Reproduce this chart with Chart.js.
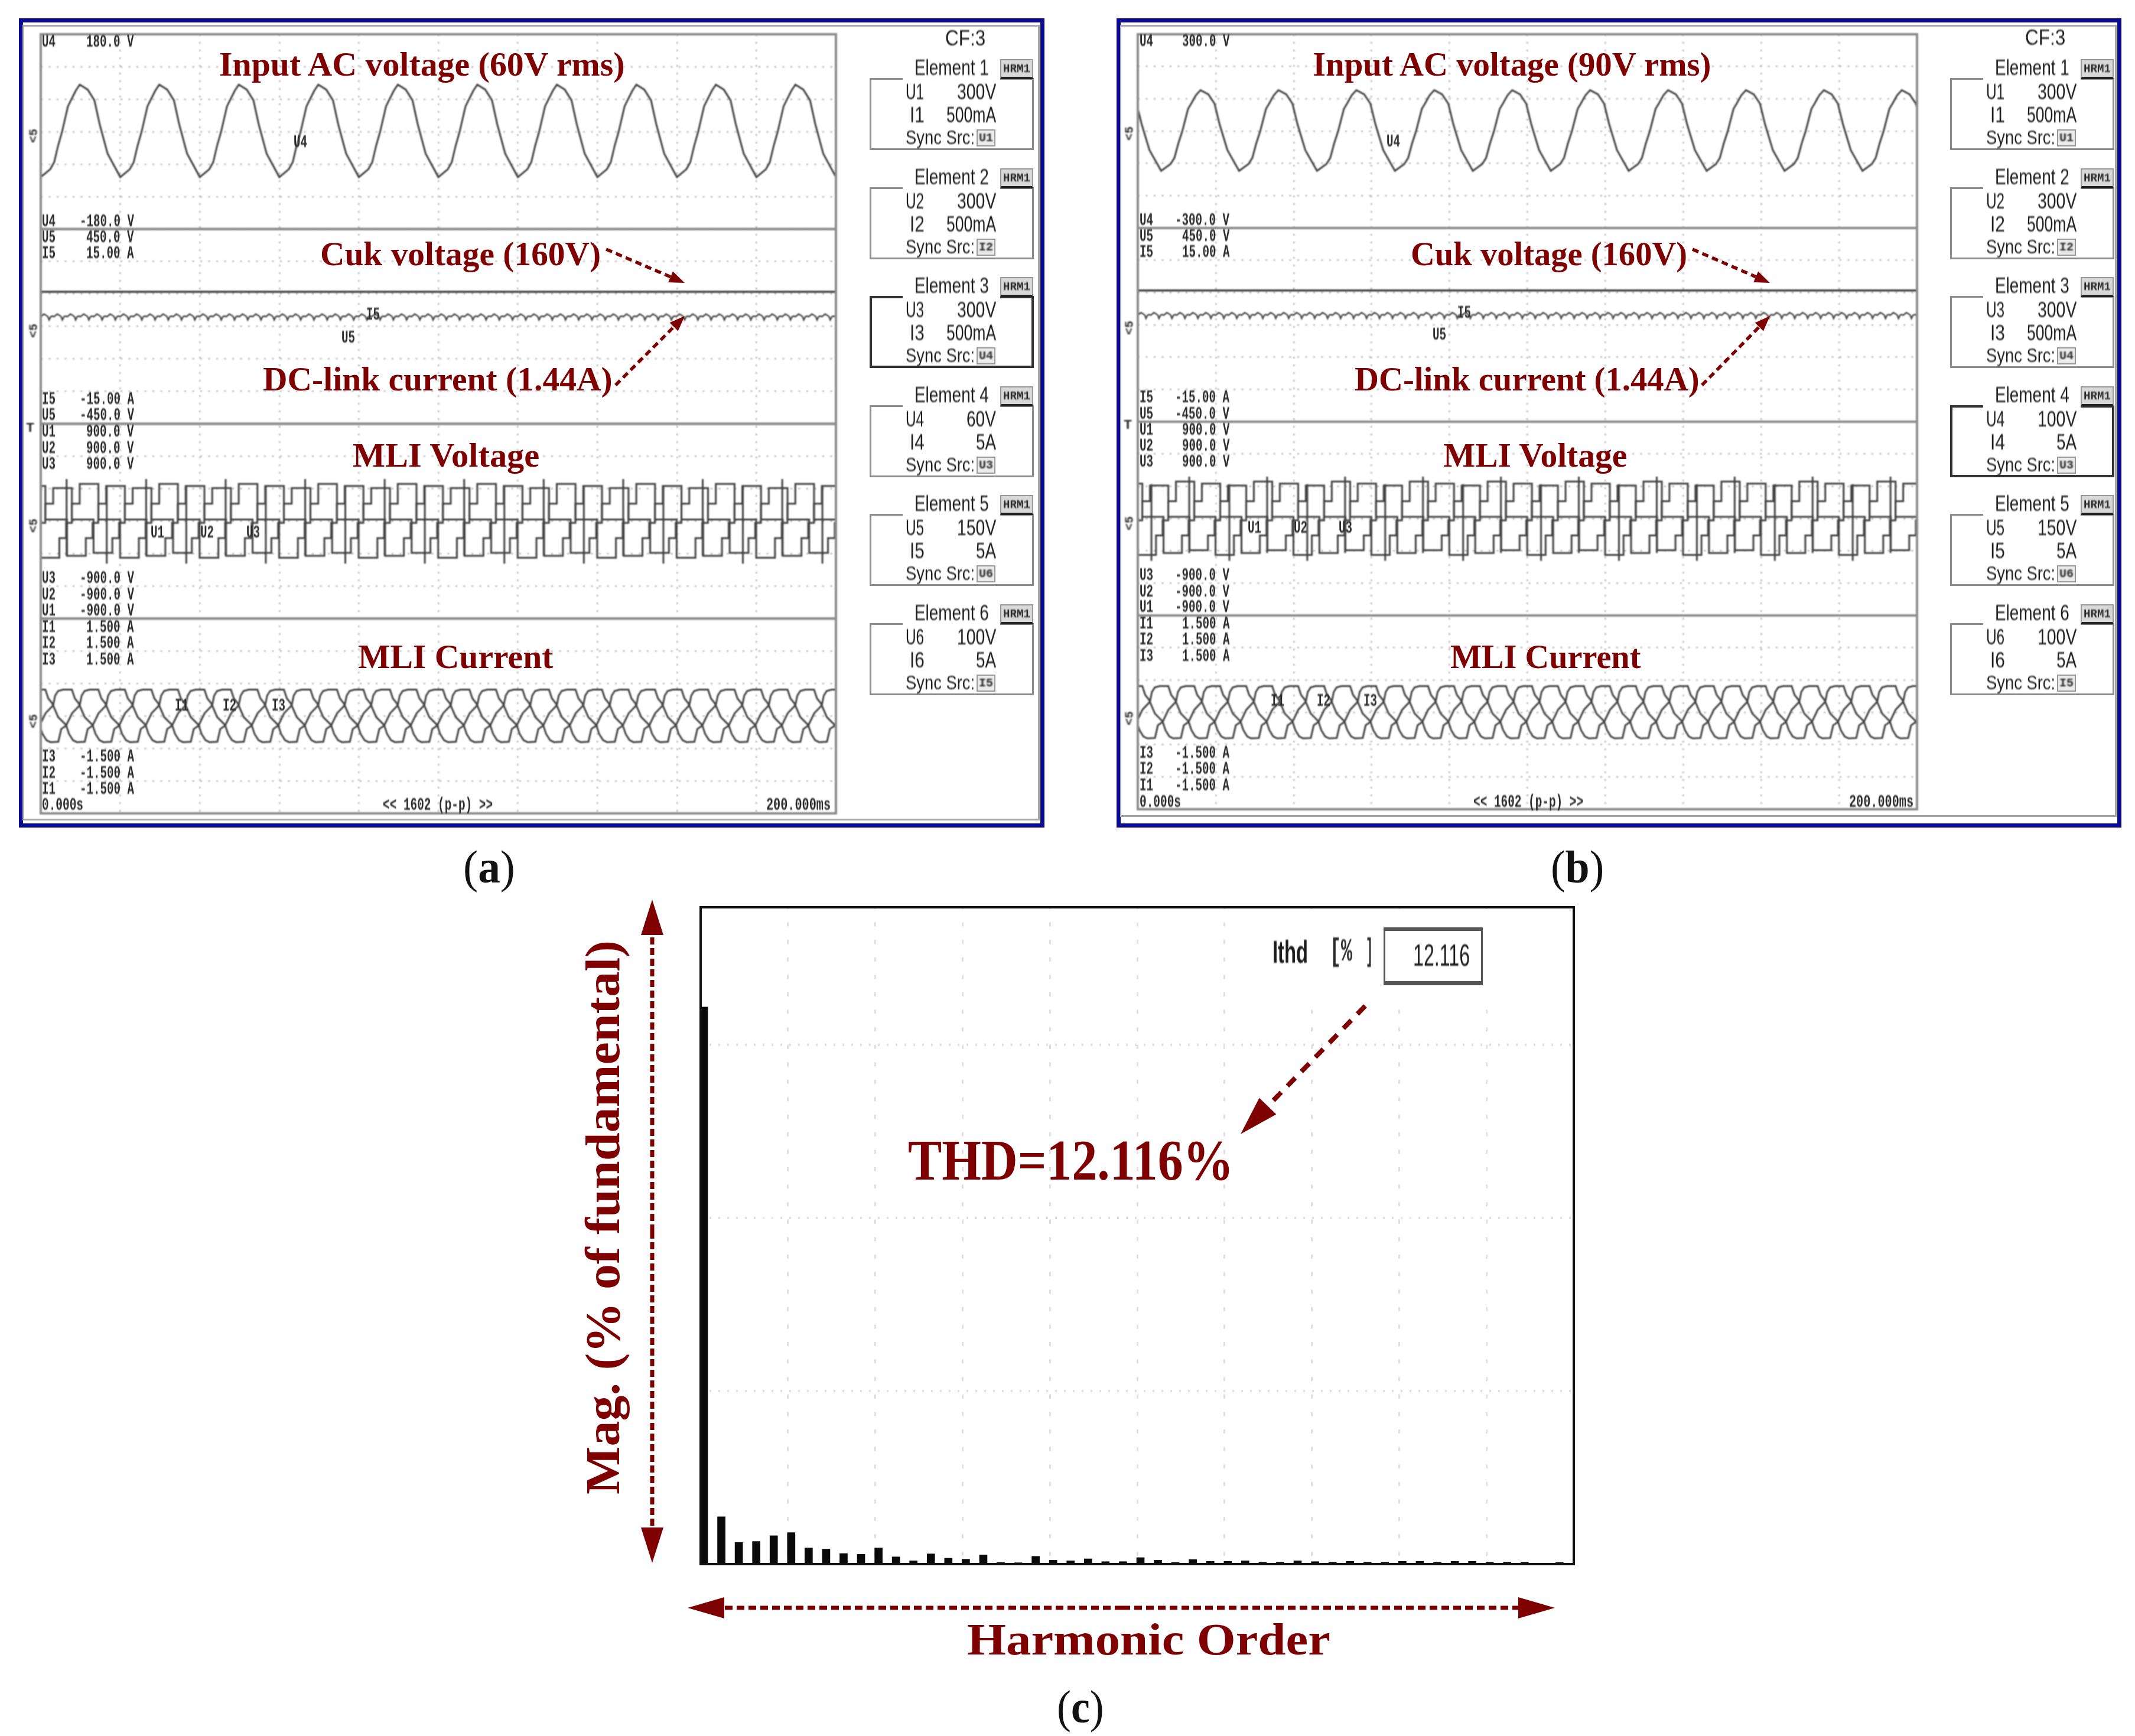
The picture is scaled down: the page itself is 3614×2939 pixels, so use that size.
<!DOCTYPE html>
<html>
<head>
<meta charset="utf-8">
<title>Scope captures and harmonic spectrum</title>
<script src="https://cdn.jsdelivr.net/npm/chart.js@4"></script>
<style>
    html, body { margin: 0; background: #fff; }
    body { position: relative; width: 3614px; height: 2939px; overflow: hidden; }
    canvas { position: absolute; }
    .box { position: absolute; box-sizing: border-box; }
    .txt { position: absolute; white-space: pre; line-height: 1; }
    .soft { filter: blur(0.8px); }
    svg { position: absolute; left: 0; top: 0; }
</style>
</head>
<body>
<script>
// one cycle of each trace (ms, then volts / amps)
const CYCLE_MS = 20;
const RIPPLE_MS = 3.33;

const inputTimesA = [0, 2.38, 3.37, 4.36, 5.35, 6.84, 7.58, 8.82, 9.81, 11.8, 13.5, 14.8, 16.8, 20];
const inputVoltsA = [-84, -69.5, -56.7, -25.8, -0.4, 46.9, 57.8, 76, 86.9, 77.8, 57.8, 14.2, -40.4, -84];
const inputTimesB = [6, 8.4, 9.4, 10.4, 11.4, 12.9, 13.7, 14.9, 16.1, 18.1, 19.7, 21, 23, 26];
const inputVoltsB = [-123, -102, -83, -38, -1, 69, 85, 111, 127, 114, 85, 21, -59, -123];

const cukTimes = [0, 200];
const cukVolts = [160, 160];
const VOLTS_PER_AMP = 30; // U5 and I5 share one strip: 450 V against 15 A

const rippleTimes = [0, 0.8, 1.4, 1.8, 2.1, 2.5, 2.9, 3.33];
const rippleAmps = [1.5, 1.9, 1.7, 1.5, 1.0, 1.5, 1.6, 1.5];

const mliTimesU1 = [1.14, 1.14, 3.12, 3.12, 7.83, 7.83, 13.28, 13.28, 18, 18, 19.7, 19.7, 21.14];
const mliVoltsU1 = [-16, 162, 162, 307, 307, 16, 16, -293, -293, -156, -156, -16, -16];
const mliTimesU2 = [7.81, 7.81, 9.79, 9.79, 14.5, 14.5, 19.95, 19.95, 24.67, 24.67, 26.37, 26.37, 27.81];
const mliVoltsU2 = [-16, 162, 162, 344, 344, 16, 16, -338, -338, -156, -156, -16, -16];
const mliTimesU3 = [14.47, 14.47, 16.45, 16.45, 21.16, 21.16, 26.61, 26.61, 31.33, 31.33, 33.03, 33.03, 34.47];
const mliVoltsU3 = [-16, 162, 162, 325, 325, 16, 16, -320, -320, -156, -156, -16, -16];

const spikeTimesA = [6.5, 6.5, 6.5, 16.6, 16.6, 16.6];
const spikeTimesB = [3.5, 3.5, 3.5, 13.2, 13.2, 13.2];
const spikeVoltsA = [390, -320, null, -393, 320, null];
const spikeVoltsB = [-393, 320, null, 390, -320, null];

const mliTimesI1 = [3.12, 3.62, 4.36, 5.6, 7.83, 8.57, 9.56, 11.05, 13.03, 13.77, 14.76, 15.75, 17.74, 18.48, 19.7, 21.2, 23.12];
const mliAmpsI1 = [0.164, 0.315, 0.385, 0.406, 0.406, 0.27, 0.194, -0.018, -0.139, -0.276, -0.373, -0.403, -0.397, -0.2, -0.148, 0.042, 0.164];
const mliTimesI2 = [9.79, 10.29, 11.03, 12.27, 14.5, 15.24, 16.23, 17.72, 19.7, 20.44, 21.43, 22.42, 24.41, 25.15, 26.37, 27.87, 29.79];
const mliAmpsI2 = [0.164, 0.315, 0.385, 0.406, 0.406, 0.27, 0.194, -0.018, -0.139, -0.276, -0.373, -0.403, -0.397, -0.2, -0.148, 0.042, 0.164];
const mliTimesI3 = [16.45, 16.95, 17.69, 18.93, 21.16, 21.9, 22.89, 24.38, 26.36, 27.1, 28.09, 29.08, 31.07, 31.81, 33.03, 34.53, 36.45];
const mliAmpsI3 = [0.164, 0.315, 0.385, 0.406, 0.406, 0.27, 0.194, -0.018, -0.139, -0.276, -0.373, -0.403, -0.397, -0.2, -0.148, 0.042, 0.164];

// harmonic spectrum (% of fundamental)
const harmonicOrders = [
    1, 2, 3, 4, 5, 6, 7, 8, 9, 10, 11, 12, 13, 14, 15, 16, 17, 18, 19, 20, 21, 22, 23, 24, 25,
    26, 27, 28, 29, 30, 31, 32, 33, 34, 35, 36, 37, 38, 39, 40, 41, 42, 43, 44, 45, 46, 47, 48, 49, 50,
];
const harmonicMags = [
    100, 8.5, 3.9, 4.07, 5.1, 5.66, 2.9, 2.7, 1.9, 1.77, 2.9, 1.3, 0.6, 1.84, 1.06, 0.88, 1.66, 0.3, 0.25, 1.4, 0.7, 0.6, 0.95, 0.45, 0.45,
    1.17, 0.7, 0.3, 0.82, 0.5, 0.5, 0.6, 0.35, 0.35, 0.6, 0.45, 0.35, 0.5, 0.35, 0.35, 0.5, 0.5, 0.35, 0.5, 0.5, 0.35, 0.35, 0.35, 0, 0.3,
];

// scope text
const rowNames = ["U4", "U4", "U5", "I5", "I5", "U5", "U1", "U2", "U3", "U3", "U2", "U1", "I1", "I2", "I3", "I3", "I2", "I1"];
const rowValuesA = ["180.0 V", "-180.0 V", "450.0 V", "15.00 A", "-15.00 A", "-450.0 V", "900.0 V", "900.0 V", "900.0 V", "-900.0 V", "-900.0 V", "-900.0 V", "1.500 A", "1.500 A", "1.500 A", "-1.500 A", "-1.500 A", "-1.500 A"];
const rowValuesB = ["300.0 V", "-300.0 V", "450.0 V", "15.00 A", "-15.00 A", "-450.0 V", "900.0 V", "900.0 V", "900.0 V", "-900.0 V", "-900.0 V", "-900.0 V", "1.500 A", "1.500 A", "1.500 A", "-1.500 A", "-1.500 A", "-1.500 A"];
const rowYA = [71, 375, 402, 428.5, 676, 703, 731, 759, 786, 979, 1007, 1034, 1062, 1089, 1117, 1281, 1309, 1336];
const rowYB = [70, 373, 399.5, 427, 672.7, 701, 728, 755, 782, 974, 1002, 1028, 1056, 1083, 1111, 1275, 1302, 1330];

const elementVoltsA = ["300V", "300V", "300V", "60V", "150V", "100V"];
const elementAmpsA = ["500mA", "500mA", "500mA", "5A", "5A", "5A"];
const elementVoltsB = ["300V", "300V", "300V", "100V", "150V", "100V"];
const elementAmpsB = ["500mA", "500mA", "500mA", "5A", "5A", "5A"];
const elementSync = ["U1", "I2", "U4", "U3", "U6", "I5"];

const SCOPE_LINE = "#404040";
const SCOPE_EDGE = "#8c8c8c";
const SCOPE_GRID = "#b4b4b4";
const SPECTRUM_GRID = "#e6dbe6";
const NOTE_RED = "#7f0000";
const FRAME_BLUE = "#0a0a8e";

function repeatCycle(times, values, period) {
    const points = [];
    for (let k = -2; k * period < 200; k++) {
        times.forEach((t, i) => points.push({ x: t + k * period, y: values[i] }));
    }
    return points;
}

function traceSet(points, yAxisID, width = 3) {
    return {
        data: points,
        yAxisID,
        borderColor: SCOPE_LINE,
        borderWidth: width,
        pointRadius: 0,
        tension: 0,
    };
}

const stripFrames = {
    id: "stripFrames",
    afterDatasetsDraw(chart) {
        const { ctx, chartArea } = chart;
        ctx.save();
        ctx.strokeStyle = SCOPE_EDGE;
        ctx.lineWidth = 4;
        ["yInput", "yLink", "yMli", "yCurrent"].forEach((id) => {
            const s = chart.scales[id];
            ctx.strokeRect(chartArea.left, s.top, chartArea.width, s.bottom - s.top);
        });
        ctx.restore();
    },
};

function stripScale(order, range) {
    return {
        type: "linear",
        position: "left",
        stack: "scope",
        stackWeight: 1,
        weight: 3 - order,
        min: -range,
        max: range,
        border: { display: false, dash: [3, 10.5] },
        ticks: { display: false, stepSize: range / 3 },
        grid: { color: SCOPE_GRID, lineWidth: 2.5, drawTicks: false, tickLength: 0 },
    };
}

function addCanvas(left, top, width, height) {
    const canvas = document.createElement("canvas");
    canvas.width = width;
    canvas.height = height;
    canvas.style.left = left + "px";
    canvas.style.top = top + "px";
    canvas.style.width = width + "px";
    canvas.style.height = height + "px";
    document.body.appendChild(canvas);
    return canvas;
}

function scopeChart(left, top, right, bottom, inputRange, inputTrace, spikes) {
    const pad = 4;
    const canvas = addCanvas(left - pad, top - pad, right - left + 2 * pad, bottom - top + 2 * pad);
    canvas.className = "soft";
    return new Chart(canvas.getContext("2d"), {
        type: "line",
        data: {
            datasets: [
                traceSet(inputTrace, "yInput"),
                traceSet(cukTimes.map((t, i) => ({ x: t, y: cukVolts[i] / VOLTS_PER_AMP })), "yLink", 3.5),
                traceSet(repeatCycle(rippleTimes, rippleAmps, RIPPLE_MS), "yLink", 2.4),
                traceSet(repeatCycle(mliTimesU1, mliVoltsU1, CYCLE_MS), "yMli"),
                traceSet(repeatCycle(mliTimesU2, mliVoltsU2, CYCLE_MS), "yMli"),
                traceSet(repeatCycle(mliTimesU3, mliVoltsU3, CYCLE_MS), "yMli"),
                traceSet(spikes, "yMli"),
                traceSet(repeatCycle(mliTimesI1, mliAmpsI1, CYCLE_MS), "yCurrent"),
                traceSet(repeatCycle(mliTimesI2, mliAmpsI2, CYCLE_MS), "yCurrent"),
                traceSet(repeatCycle(mliTimesI3, mliAmpsI3, CYCLE_MS), "yCurrent"),
            ],
        },
        options: {
            responsive: false,
            animation: false,
            devicePixelRatio: 1,
            layout: { padding: pad },
            plugins: { legend: { display: false }, tooltip: { enabled: false } },
            scales: {
                x: {
                    type: "linear",
                    min: 0,
                    max: 200,
                    border: { display: false, dash: [3, 10] },
                    ticks: { display: false, stepSize: CYCLE_MS },
                    grid: { color: SCOPE_GRID, lineWidth: 2.5, drawTicks: false, tickLength: 0 },
                },
                yInput: stripScale(0, inputRange),
                yLink: stripScale(1, 15),
                yMli: stripScale(2, 900),
                yCurrent: stripScale(3, 1.5),
            },
        },
        plugins: [stripFrames],
    });
}

const spectrumFrame = {
    id: "spectrumFrame",
    afterDraw(chart) {
        const { ctx, chartArea } = chart;
        ctx.save();
        ctx.strokeStyle = "#111";
        ctx.lineWidth = 4;
        ctx.strokeRect(chartArea.left, chartArea.top, chartArea.width, chartArea.height);
        ctx.restore();
    },
};

function spectrumChart(left, top, right, bottom) {
    const pad = 4;
    const canvas = addCanvas(left - pad, top - pad, right - left + 2 * pad, bottom - top + 2 * pad);
    const firstBar = 0.814;
    return new Chart(canvas.getContext("2d"), {
        type: "bar",
        data: {
            datasets: [
                {
                    data: harmonicOrders.map((order, i) => ({ x: order, y: harmonicMags[i] })),
                    backgroundColor: "#0a0a0a",
                    barThickness: 13,
                },
            ],
        },
        options: {
            responsive: false,
            animation: false,
            devicePixelRatio: 1,
            layout: { padding: pad },
            plugins: { legend: { display: false }, tooltip: { enabled: false } },
            scales: {
                x: {
                    type: "linear",
                    offset: false,
                    min: firstBar,
                    max: firstBar + 50,
                    border: { display: false, dash: [7, 22.6], dashOffset: 4 },
                    ticks: { display: false },
                    afterBuildTicks(scale) {
                        scale.ticks = [];
                        for (let i = 1; i < 10; i++) scale.ticks.push({ value: firstBar + i * 5 });
                    },
                    grid: { offset: false, color: SPECTRUM_GRID, lineWidth: 3, drawTicks: false, tickLength: 0 },
                },
                y: {
                    min: 0,
                    max: 117.9,
                    border: { display: false, dash: [3, 12] },
                    ticks: { display: false, stepSize: 31.07 },
                    grid: { color: SPECTRUM_GRID, lineWidth: 4, drawTicks: false, tickLength: 0 },
                },
            },
        },
        plugins: [spectrumFrame],
    });
}

function addBox(left, top, right, bottom, css) {
    const el = document.createElement("div");
    el.className = "box";
    el.style.cssText = `left:${left}px;top:${top}px;width:${right - left}px;height:${bottom - top}px;${css}`;
    document.body.appendChild(el);
    return el;
}

// text squeezed or stretched to the width it has in the reference
function addText(text, x, y, width, size, opts = {}) {
    const el = document.createElement("div");
    el.className = "txt" + (opts.soft === false ? "" : " soft");
    el.innerHTML = text;
    el.style.font = `${opts.weight || "normal"} ${size}px ${opts.family || "'Liberation Sans'"}`;
    el.style.color = opts.color || "#1c1c1c";
    document.body.appendChild(el);
    const sx = width / el.offsetWidth;
    el.style.left = x + "px";
    el.style.top = y + "px";
    if (opts.rotate) {
        el.style.transform = `translate(-50%, -50%) rotate(${opts.rotate}deg) scaleX(${sx})`;
    } else {
        el.style.transformOrigin = "left center";
        el.style.transform = `translateY(-50%) scaleX(${sx})`;
    }
    return el;
}

const monoText = { family: "'Liberation Mono'", color: "#2a2a2a", weight: "bold" };
const noteText = { family: "'Liberation Serif'", color: NOTE_RED, weight: "bold", soft: false };

function scopeRows(nameX, valueRight, values, rows) {
    rows.forEach((y, i) => {
        addText(rowNames[i], nameX, y, 23, 30, monoText);
        const w = values[i].length * 11.5;
        addText(values[i], valueRight - w, y, w, 30, monoText);
    });
}

function elementBoxes(left, volts, amps, activeIndex) {
    const topFirst = 132;
    const pitch = 184.5;
    volts.forEach((v, i) => {
        const top = topFirst + i * pitch;
        const active = i === activeIndex;
        const edge = active ? "4px solid #333" : "3px solid #8c8c8c";
        addBox(left, top, left + 278, top + 122, `border:${edge};`);
        addBox(left + 56, top - 4, left + 221, top + 5, "background:#fff;");
        addBox(left + 221, top - 32, left + 277, top + 2, "background:#d8d8d8;border:2px solid #999;border-bottom:4px solid #222;");
        addText("HRM1", left + 226, top - 16, 46, 20, monoText);
        addText(`Element ${i + 1}`, left + 76, top - 17, 126, 37);
        addText(`U${i + 1}`, left + 61, top + 24, 31, 37);
        addText(v, left + 214 - (v.length === 3 ? 50 : 66), top + 24, v.length === 3 ? 50 : 66, 37);
        addText(`I${i + 1}`, left + 68, top + 63, 25, 37);
        const aw = amps[i].length === 2 ? 34 : 84;
        addText(amps[i], left + 214 - aw, top + 63, aw, 37);
        addText("Sync Src:", left + 61, top + 101, 117, 33);
        addBox(left + 181, top + 87, left + 213, top + 116, "background:#ececec;border:2px solid #999;");
        addText(elementSync[i], left + 185, top + 101, 24, 20, monoText);
    });
}

function panelFrame(left, top, right, bottom, grayBottom) {
    addBox(left, top, right, bottom, `border:7px solid ${FRAME_BLUE};`);
    addBox(left + 6, 42, right - 8, grayBottom, "border:3px solid #a4a4a4;border-left-width:2px;");
}

const svg = document.createElementNS("http://www.w3.org/2000/svg", "svg");

function dashArrow(x1, y1, x2, y2, width, dash, headLen, headWide) {
    const len = Math.hypot(x2 - x1, y2 - y1);
    const ux = (x2 - x1) / len;
    const uy = (y2 - y1) / len;
    const bx = x2 - ux * headLen;
    const by = y2 - uy * headLen;
    const line = document.createElementNS(svg.namespaceURI, "line");
    line.setAttribute("x1", x1);
    line.setAttribute("y1", y1);
    line.setAttribute("x2", bx);
    line.setAttribute("y2", by);
    line.setAttribute("stroke", NOTE_RED);
    line.setAttribute("stroke-width", width);
    line.setAttribute("stroke-dasharray", dash);
    svg.appendChild(line);
    const head = document.createElementNS(svg.namespaceURI, "polygon");
    const hx = -uy * headWide / 2;
    const hy = ux * headWide / 2;
    head.setAttribute("points", `${x2},${y2} ${bx + hx},${by + hy} ${bx - hx},${by - hy}`);
    head.setAttribute("fill", NOTE_RED);
    svg.appendChild(head);
}

// ---- panels ----
panelFrame(32, 31, 1768, 1401, 1389);
panelFrame(1890, 31, 3591, 1401, 1383);

scopeChart(69, 58, 1415, 1377, 180, repeatCycle(inputTimesA, inputVoltsA, CYCLE_MS), repeatCycle(spikeTimesA, spikeVoltsA, CYCLE_MS));
scopeChart(1926, 58, 3245, 1370, 300, repeatCycle(inputTimesB, inputVoltsB, CYCLE_MS), repeatCycle(spikeTimesB, spikeVoltsB, CYCLE_MS));
spectrumChart(1186, 1536, 2664, 2648);

// white area behind the Ithd readout
addBox(2090, 1545, 2655, 1700, "background:#fff;");
addBox(2342, 1570, 2510, 1668, "border:3px solid #555;border-top-width:6px;border-bottom-width:7px;background:#fff;");

svg.setAttribute("width", 3614);
svg.setAttribute("height", 2939);
document.body.appendChild(svg);

dashArrow(1026, 422, 1159, 479, 5.5, "11 7", 26, 20);
dashArrow(1042, 652, 1159, 535, 5.5, "11 7", 26, 20);
dashArrow(2865, 422, 2996, 479, 5.5, "11 7", 26, 20);
dashArrow(2881, 652, 2996, 535, 5.5, "11 7", 26, 20);
dashArrow(2311, 1703, 2100, 1920, 8, "19 15", 66, 40);
dashArrow(1104, 2085, 1104, 1523, 7, "12 6", 60, 38);
dashArrow(1104, 2085, 1104, 2646, 7, "12 6", 60, 38);
dashArrow(1900, 2722, 1164, 2722, 7, "13 7", 62, 36);
dashArrow(1900, 2722, 2632, 2722, 7, "13 7", 62, 36);

scopeRows(70.5, 226.7, rowValuesA, rowYA);
scopeRows(1929, 2081, rowValuesB, rowYB);
addText("0.000s", 71, 1363, 70, 30, monoText);
addText("0.000s", 1929, 1358, 70, 30, monoText);
addText("&lt;&lt; 1602 (p-p) &gt;&gt;", 648, 1363, 186, 30, monoText);
addText("&lt;&lt; 1602 (p-p) &gt;&gt;", 2494, 1358, 186, 30, monoText);
addText("200.000ms", 1297, 1363, 109, 30, monoText);
addText("200.000ms", 3130, 1358, 109, 30, monoText);

// labels that sit on the traces
addText("U4", 497, 241, 23, 30, monoText);
addText("I5", 620, 533, 23, 30, monoText);
addText("U5", 578, 572, 23, 30, monoText);
addText("U1", 255, 902, 23, 30, monoText);
addText("U2", 339, 902, 23, 30, monoText);
addText("U3", 417, 902, 23, 30, monoText);
addText("I1", 296, 1195, 23, 30, monoText);
addText("I2", 377, 1195, 23, 30, monoText);
addText("I3", 460, 1195, 23, 30, monoText);
addText("U4", 2347, 240, 23, 30, monoText);
addText("I5", 2467, 530, 23, 30, monoText);
addText("U5", 2425, 567, 23, 30, monoText);
addText("U1", 2112, 894, 23, 30, monoText);
addText("U2", 2190, 894, 23, 30, monoText);
addText("U3", 2266, 894, 23, 30, monoText);
addText("I1", 2151, 1187, 23, 30, monoText);
addText("I2", 2229, 1187, 23, 30, monoText);
addText("I3", 2308, 1187, 23, 30, monoText);

[230, 560, 890, 1221].forEach((y) => addText("&lt;5", 57, y, 24, 20, { ...monoText, rotate: -90 }));
[226, 555, 886, 1216].forEach((y) => addText("&lt;5", 1912, y, 24, 20, { ...monoText, rotate: -90 }));
addText("T", 44, 725, 14, 22, monoText);
addText("T", 1902, 720, 14, 22, monoText);

addText("CF:3", 1600, 65, 68, 37);
addText("CF:3", 3428, 64, 68, 37);
elementBoxes(1472, elementVoltsA, elementAmpsA, 2);
elementBoxes(3301, elementVoltsB, elementAmpsB, 3);

addText("Input AC voltage (60V rms)", 371, 108, 687, 58, noteText);
addText("Cuk voltage (160V)", 542, 429, 475, 58, noteText);
addText("DC-link current (1.44A)", 445, 641, 592, 58, noteText);
addText("MLI Voltage", 597, 770, 316, 58, noteText);
addText("MLI Current", 606, 1111, 330, 58, noteText);
addText("Input AC voltage (90V rms)", 2222, 108, 675, 58, noteText);
addText("Cuk voltage (160V)", 2388, 429, 468, 58, noteText);
addText("DC-link current (1.44A)", 2293, 641, 584, 58, noteText);
addText("MLI Voltage", 2443, 770, 311, 58, noteText);
addText("MLI Current", 2455, 1111, 322, 58, noteText);

addText("(<b>a</b>)", 784, 1468, 88, 78, { family: "'Liberation Serif'", color: "#111", soft: false });
addText("(<b>b</b>)", 2625, 1468, 90, 78, { family: "'Liberation Serif'", color: "#111", soft: false });
addText("(<b>c</b>)", 1789, 2890, 80, 78, { family: "'Liberation Serif'", color: "#111", soft: false });

addText("Ithd", 2154, 1611, 60, 54, { weight: "bold" });
addText("[%", 2251, 1611, 38, 54, monoText);
addText("]", 2312, 1611, 12, 54, monoText);
addText("12.116", 2392, 1617, 96, 52);
addText("THD=12.116%", 1537, 1964, 551, 98, noteText);
addText("Harmonic Order", 1637, 2775, 615, 76, noteText);
addText("Mag. (% of fundamental)", 1021, 2061, 938, 82, { ...noteText, rotate: -90 });
</script>
</body>
</html>
